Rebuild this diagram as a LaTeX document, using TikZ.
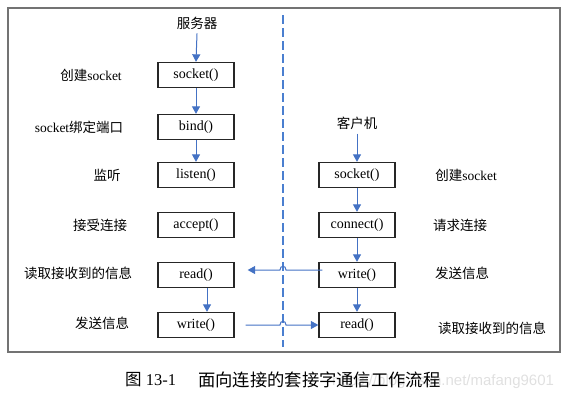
\documentclass[tikz,border=0pt]{standalone}
\usepackage{fontspec}
\setmainfont{Liberation Serif}
\newfontfamily\cjk{Noto Sans CJK SC}
\newfontfamily\wmfont{Liberation Sans}
\usetikzlibrary{arrows.meta}
\definecolor{flowblue}{HTML}{4472C4}
\definecolor{dashblue}{HTML}{4A7FD0}
\begin{document}
\begin{tikzpicture}[x=1pt,y=-1pt,
  fbox/.style={draw=black!85, line width=1.3pt, minimum width=76pt, minimum height=25pt, inner sep=0pt, font=\fontsize{14}{16}\selectfont},
  lbl/.style={inner sep=0pt, font=\fontsize{13.5}{15}\selectfont},
  flow/.style={draw=flowblue, line width=1pt, -{Triangle[length=7.5pt,width=8pt]}},
]
\useasboundingbox (0,0) rectangle (575,400);
\draw[black!55, line width=1.3pt] (8,8) rectangle (560,352);
% divider
\coordinate (dtop) at (283,15);
\coordinate (dbot) at (283,347);
\draw[dashblue, line width=2pt, dash pattern=on 9pt off 4pt] (dtop) -- (dbot);

% server column
\node[lbl] (sl) at (197,23) {\cjk 服务器};
\node[fbox] (s1) at (196,75) {socket()};
\node[fbox] (s2) at (196,127) {bind()};
\node[fbox] (s3) at (196,175) {listen()};
\node[fbox] (s4) at (196,225) {accept()};
\node[fbox] (s5) at (196,275) {read()};
\node[fbox] (s6) at (196,325) {write()};

\node[lbl] (ls1) at (91,75) {{\cjk 创建}socket};
\node[lbl] (ls2) at (79,127) {socket{\cjk 绑定端口}};
\node[lbl] (ls3) at (107,175) {\cjk 监听};
\node[lbl] (ls4) at (100,225) {\cjk 接受连接};
\node[lbl] (ls5) at (78,273) {\cjk 读取接收到的信息};
\node[lbl] (ls6) at (102,323) {\cjk 发送信息};

% client column
\node[lbl] (cl) at (357,123) {\cjk 客户机};
\node[fbox] (c1) at (357,175) {socket()};
\node[fbox] (c2) at (357,225) {connect()};
\node[fbox] (c3) at (357,275) {write()};
\node[fbox] (c4) at (357,325) {read()};

\node[lbl] (lc1) at (466,175) {{\cjk 创建}socket};
\node[lbl] (lc2) at (460,225) {\cjk 请求连接};
\node[lbl] (lc3) at (462,273) {\cjk 发送信息};
\node[lbl] (lc4) at (492,328) {\cjk 读取接收到的信息};

% vertical arrows
\draw[flow] ([yshift=-4pt]sl.south) -- (s1.north);
\draw[flow] (s1) -- (s2);
\draw[flow] (s2) -- (s3);
\draw[flow] ([xshift=11pt]s5.south) -- ([xshift=11pt]s6.north);
\draw[flow] ([yshift=-4pt]cl.south) -- (c1.north);
\draw[flow] (c1) -- (c2);
\draw[flow] (c2) -- (c3);
\draw[flow] (c3) -- (c4);

% horizontal arrows with jumps over the divider
\coordinate (a1) at ([xshift=4pt,yshift=5pt]c3.west);
\coordinate (a1end) at ([xshift=13pt,yshift=5pt]s5.east);
\draw[flow] (a1) -- (286,270) .. controls (286,265) and (280,265) .. (280,270) -- (a1end);
\coordinate (a2) at ([xshift=11pt]s6.east);
\draw[flow] (a2) -- (280,325) .. controls (280,320) and (286,320) .. (286,325) -- (c4.west);

% caption and watermark
\node[inner sep=0pt, anchor=west, text=black!12, font=\wmfont\fontsize{15}{17}\selectfont] (wm) at (332,382) {https://blog.csdn.net/mafang9601};
\node[inner sep=0pt, anchor=west, font=\fontsize{16.5}{18}\selectfont] (cap1) at (125,380) {{\cjk 图} 13-1};
\node[inner sep=0pt, anchor=west, font=\cjk\fontsize{17.3}{19}\selectfont] (cap2) at (198,380) {面向连接的套接字通信工作流程};
\end{tikzpicture}
\end{document}
